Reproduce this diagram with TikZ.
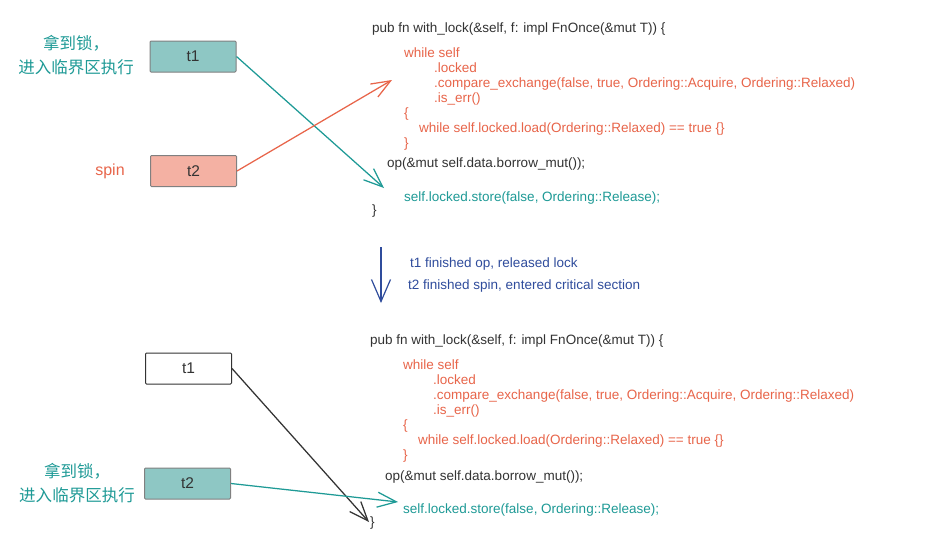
\documentclass[tikz,border=0pt]{standalone}
\usepackage{fontspec}
\setmainfont{Liberation Sans}
\newfontfamily\cjk{Noto Sans CJK SC}
\usetikzlibrary{arrows.meta}
\definecolor{tealc}{HTML}{1E9A96}
\definecolor{tealfill}{HTML}{8EC7C4}
\definecolor{redc}{HTML}{E8654A}
\definecolor{redfill}{HTML}{F4B1A3}
\definecolor{bluec}{HTML}{2F4C9C}
\definecolor{codec}{HTML}{333333}
\definecolor{boxline}{HTML}{808080}
\tikzset{
  code/.style={anchor=west, inner sep=0pt, font=\fontsize{13.5}{15}\selectfont, text height=12pt, text depth=3pt, text=codec},
  redcode/.style={code, text=redc},
  tealcode/.style={code, text=tealc},
  thread/.style={draw=boxline, line width=1pt, rounded corners=1pt, minimum width=86pt, minimum height=31pt, inner sep=0pt, font=\fontsize{15.5}{17}\selectfont, text=codec},
  cnlabel/.style={align=center, font=\cjk\fontsize{16.5}{24}\selectfont, text=tealc, inner sep=0pt},
  arr/.style={line width=1.25pt, -{Straight Barb[length=19pt,width=15pt,line width=1.25pt]}},
  note/.style={anchor=west, inner sep=0pt, font=\fontsize{13.5}{15}\selectfont, text=bluec, text height=12pt, text depth=3pt}
}
\begin{document}
\begin{tikzpicture}[x=1pt,y=-1pt]
\useasboundingbox[fill=white] (0,0) rectangle (942,549);

% ---------- top ----------
\node[cnlabel] (lab1) at (76,55) {拿到锁，\\进入临界区执行};
\node[thread, fill=tealfill] (t1a) at (193,56.5) {t1};
\node[thread, fill=redfill] (t2a) at (193.5,171) {t2};
\node[inner sep=0pt, font=\fontsize{16}{18}\selectfont, text=redc] (spin) at (110,171) {spin};

\node[code] (a1) at (372,28) {pub fn with\_lock(\&self, f: impl FnOnce(\&mut T)) \{};
\node[redcode] (a2) at (404,53) {while self};
\node[redcode] (a3) at (434,68) {.locked};
\node[redcode] (a4) at (434,83) {.compare\_exchange(false, true, Ordering::Acquire, Ordering::Relaxed)};
\node[redcode] (a5) at (434,98) {.is\_err()};
\node[redcode] (a6) at (404,113) {\{};
\node[redcode] (a7) at (419,128) {while self.locked.load(Ordering::Relaxed) == true \{\}};
\node[redcode] (a8) at (404,143) {\}};
\node[code] (a9) at (387,163) {op(\&mut self.data.borrow\_mut());};
\node[tealcode] (a10) at (404,197) {self.locked.store(false, Ordering::Release);};
\node[code] (a11) at (372,210) {\}};

\coordinate (ta1) at (384,188);
\coordinate (ta2) at (392,80);
\draw[arr, draw=tealc] (t1a.east) -- (ta1);
\draw[arr, draw=redc] (t2a.east) -- (ta2);

% ---------- middle ----------
\coordinate (m1) at (381,247);
\coordinate (m2) at (381,303);
\draw[line width=1.2pt, draw=bluec, -{Straight Barb[length=22pt,width=19pt,line width=1.2pt]}] (m1) -- (m2);
\node[note] (n1) at (410,263) {t1 finished op, released lock};
\node[note] (n2) at (408,285) {t2 finished spin, entered critical section};

% ---------- bottom ----------
\node[thread, fill=white, draw=codec] (t1b) at (188.5,368.5) {t1};
\node[thread, fill=tealfill] (t2b) at (187.5,483.5) {t2};
\node[cnlabel] (lab2) at (77,483.5) {拿到锁，\\进入临界区执行};

\node[code] (b1) at (370,340) {pub fn with\_lock(\&self, f: impl FnOnce(\&mut T)) \{};
\node[redcode] (b2) at (403,365) {while self};
\node[redcode] (b3) at (433,380) {.locked};
\node[redcode] (b4) at (433,395) {.compare\_exchange(false, true, Ordering::Acquire, Ordering::Relaxed)};
\node[redcode] (b5) at (433,410) {.is\_err()};
\node[redcode] (b6) at (403,425) {\{};
\node[redcode] (b7) at (418,440) {while self.locked.load(Ordering::Relaxed) == true \{\}};
\node[redcode] (b8) at (403,455) {\}};
\node[code] (b9) at (385,476) {op(\&mut self.data.borrow\_mut());};
\node[tealcode] (b10) at (403,509) {self.locked.store(false, Ordering::Release);};
\node[code] (b11) at (370,522) {\}};

\coordinate (tb1) at (369,522);
\coordinate (tb2) at (398,502);
\draw[arr, draw=codec] (t1b.east) -- (tb1);
\draw[arr, draw=tealc] (t2b.east) -- (tb2);
\end{tikzpicture}
\end{document}
